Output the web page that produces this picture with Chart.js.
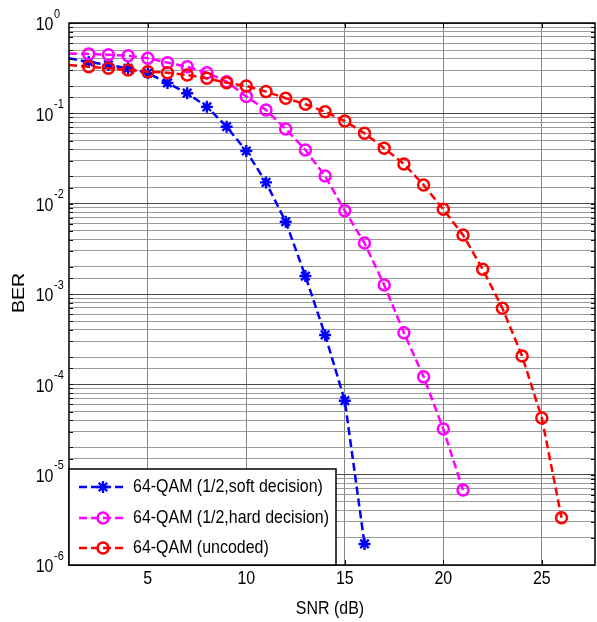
<!DOCTYPE html>
<html>
<head>
<meta charset="utf-8">
<script src="https://cdn.jsdelivr.net/npm/chart.js@4.4.1/dist/chart.umd.min.js"></script>
<style>
  html, body { margin: 0; padding: 0; background: #fff; }
  canvas { display: block; }
</style>
</head>
<body>
<canvas id="myChart" width="597" height="622"></canvas>
<script>
        // values
        const snrSoft = [1, 2, 3, 4, 5, 6, 7, 8, 9, 10, 11, 12, 13, 14, 15, 16];
        const berSoft = [0.407, 0.370, 0.343, 0.315, 0.279, 0.217, 0.167, 0.118, 0.0711, 0.0383,
                         0.0172, 0.00631, 0.00158, 3.52e-4, 6.59e-5, 1.71e-6];

        const snrHard = [1, 2, 3, 4, 5, 6, 7, 8, 9, 10, 11, 12, 13, 14, 15, 16, 17, 18, 19, 20, 21];
        const berHard = [0.46, 0.455, 0.445, 0.434, 0.407, 0.364, 0.328, 0.282, 0.224, 0.154,
                         0.109, 0.0671, 0.0393, 0.0202, 0.00836, 0.00367, 0.00126, 3.73e-4, 1.21e-4, 3.2e-5, 6.76e-6];

        const snrUncoded = [1, 2, 3, 4, 5, 6, 7, 8, 9, 10, 11, 12, 13, 14, 15, 16, 17, 18, 19, 20, 21, 22, 23, 24, 25, 26];
        const berUncoded = [0.343, 0.328, 0.315, 0.302, 0.289, 0.282, 0.266, 0.244, 0.218, 0.201,
                            0.174, 0.147, 0.126, 0.104, 0.0822, 0.0601, 0.0410, 0.0275, 0.0161, 0.00867,
                            0.00450, 0.00188, 6.95e-4, 2.06e-4, 4.24e-5, 3.34e-6];

        const seriesLabels = ['64-QAM (1/2,soft decision)', '64-QAM (1/2,hard decision)', '64-QAM (uncoded)'];
        const xTicks = [5, 10, 15, 20, 25];
        const yDecades = [0, -1, -2, -3, -4, -5, -6];
        const xTitle = 'SNR (dB)';
        const yTitle = 'BER';

        const FONT = '"Liberation Sans", Arial, Helvetica, sans-serif';
        const SQUEEZE = 0.84;   // reference text is narrower than it is tall

        function toPoints(xs, ys) {
            return xs.map((x, i) => ({ x: x, y: ys[i] }));
        }

        // first sample sits on the left edge, its marker is not shown there
        function markerSize(r) {
            return ctx => (ctx.raw && ctx.raw.x <= 1 ? 0 : r);
        }

        const dash = [8, 4];

        const datasets = [
            {
                label: seriesLabels[0],
                data: toPoints(snrSoft, berSoft),
                borderColor: '#0000ff',
                backgroundColor: '#0000ff',
                borderWidth: 2.5,
                borderDash: dash,
                pointStyle: 'star',
                pointRadius: markerSize(6),
                pointBorderWidth: 2.4,
                pointBorderColor: '#0000ff',
                pointBackgroundColor: '#0000ff',
                order: 2
            },
            {
                label: seriesLabels[1],
                data: toPoints(snrHard, berHard),
                borderColor: '#ff00ff',
                backgroundColor: 'rgba(0,0,0,0)',
                borderWidth: 2.5,
                borderDash: dash,
                pointStyle: 'circle',
                pointRadius: markerSize(5.5),
                pointBorderWidth: 2.5,
                pointBorderColor: '#ff00ff',
                pointBackgroundColor: 'rgba(0,0,0,0)',
                order: 1
            },
            {
                label: seriesLabels[2],
                data: toPoints(snrUncoded, berUncoded),
                borderColor: '#ff0000',
                backgroundColor: 'rgba(0,0,0,0)',
                borderWidth: 2.5,
                borderDash: dash,
                pointStyle: 'circle',
                pointRadius: markerSize(5.5),
                pointBorderWidth: 2.5,
                pointBorderColor: '#ff0000',
                pointBackgroundColor: 'rgba(0,0,0,0)',
                order: 0
            }
        ];

        function txt(c, s, x, y, size, align, rotate) {
            c.save();
            c.translate(x, y);
            if (rotate) {
                c.rotate(-Math.PI / 2);
                c.scale(1, SQUEEZE);
            } else {
                c.scale(SQUEEZE, 1);
            }
            c.font = size + 'px ' + FONT;
            c.fillStyle = '#000';
            c.textAlign = align;
            c.textBaseline = 'middle';
            c.fillText(s, 0, 0);
            c.restore();
        }

        function drawMarker(c, ds, x, y) {
            const r = ds.pointStyle === 'star' ? 6 : 5.5;
            c.save();
            c.setLineDash([]);
            c.strokeStyle = ds.pointBorderColor;
            c.fillStyle = ds.pointBackgroundColor;
            c.lineWidth = ds.pointBorderWidth;
            if (Chart.helpers && Chart.helpers.drawPoint) {
                Chart.helpers.drawPoint(c, { pointStyle: ds.pointStyle, rotation: 0, radius: r, borderWidth: ds.pointBorderWidth }, x, y);
            } else {
                c.beginPath();
                c.arc(x, y, r, 0, Math.PI * 2);
                c.stroke();
            }
            c.restore();
        }

        const matlabAxes = {
            id: 'matlabAxes',
            beforeDraw(chart) {
                const c = chart.ctx;
                c.save();
                c.fillStyle = '#fff';
                c.fillRect(0, 0, chart.width, chart.height);
                c.restore();
            },
            afterDatasetsDraw(chart) {
                const c = chart.ctx;
                const a = chart.chartArea;
                const xs = chart.scales.x;
                const ys = chart.scales.y;

                // little tick marks inside the box
                c.save();
                c.strokeStyle = '#000';
                c.lineWidth = 1;
                ys.ticks.forEach(t => {
                    const y = Math.round(ys.getPixelForValue(t.value)) + 0.5;
                    c.beginPath();
                    c.moveTo(a.left, y); c.lineTo(a.left + 4, y);
                    c.moveTo(a.right, y); c.lineTo(a.right - 4, y);
                    c.stroke();
                });
                xTicks.forEach(v => {
                    const x = Math.round(xs.getPixelForValue(v)) + 0.5;
                    c.beginPath();
                    c.moveTo(x, a.bottom); c.lineTo(x, a.bottom - 5);
                    c.moveTo(x, a.top); c.lineTo(x, a.top + 5);
                    c.stroke();
                });

                // axes box
                c.lineWidth = 1.5;
                c.strokeRect(a.left, a.top, a.right - a.left, a.bottom - a.top);
                c.restore();

                // tick labels
                yDecades.forEach(e => {
                    const y = ys.getPixelForValue(Math.pow(10, e));
                    txt(c, '10', 53.5, y + 2, 19, 'right');
                    txt(c, String(e), 54, y - 9, 13, 'left');
                });
                xTicks.forEach(v => {
                    txt(c, String(v), xs.getPixelForValue(v), a.bottom + 14, 19, 'center');
                });

                // axis titles
                txt(c, xTitle, 330, a.bottom + 44, 19, 'center');
                txt(c, yTitle, 19, (a.top + a.bottom) / 2 - 1, 19.5, 'center', true);

                // legend in the lower left corner
                const box = { x: a.left, y: a.bottom - 96, w: 267, h: 96 };
                c.save();
                c.fillStyle = '#fff';
                c.fillRect(box.x, box.y, box.w, box.h);
                c.strokeStyle = '#000';
                c.lineWidth = 1.5;
                c.strokeRect(box.x, box.y, box.w, box.h);
                c.restore();

                const rowY = [box.y + 18, box.y + 49, box.y + 79];
                [0, 1, 2].forEach(i => {
                    const ds = chart.data.datasets[i];
                    const y = rowY[i];
                    c.save();
                    c.strokeStyle = ds.borderColor;
                    c.lineWidth = ds.borderWidth;
                    c.setLineDash(ds.borderDash);
                    c.beginPath();
                    c.moveTo(box.x + 10, y);
                    c.lineTo(box.x + 57, y);
                    c.stroke();
                    c.restore();
                    drawMarker(c, ds, box.x + 34, y);
                    txt(c, ds.label, box.x + 64, y, 19, 'left');
                });
            }
        };

        var ctx = document.getElementById('myChart').getContext('2d');
        var myChart = new Chart(ctx, {
            type: 'line',
            data: { datasets: datasets },
            options: {
                responsive: false,
                animation: false,
                devicePixelRatio: 1,
                layout: {
                    autoPadding: false,
                    padding: { left: 69, top: 23, right: 2, bottom: 57 }
                },
                scales: {
                    x: {
                        type: 'linear',
                        min: 1,
                        max: 27.7,
                        afterBuildTicks: scale => {
                            scale.ticks = xTicks.map(v => ({ value: v }));
                        },
                        afterFit: scale => { scale.height = 0; },
                        ticks: { display: false },
                        grid: { color: '#858585', lineWidth: 1, drawTicks: false },
                        border: { display: false },
                        title: { display: false }
                    },
                    y: {
                        type: 'logarithmic',
                        min: 1e-6,
                        max: 1,
                        afterFit: scale => { scale.width = 0; },
                        ticks: { display: false, autoSkip: false },
                        grid: {
                            drawTicks: false,
                            lineWidth: 1,
                            color: c => {
                                const v = c.tick ? c.tick.value : 1;
                                const e = Math.log10(v);
                                return Math.abs(e - Math.round(e)) < 1e-6 ? '#4a4a4a' : '#9a9a9a';
                            }
                        },
                        border: { display: false },
                        title: { display: false }
                    }
                },
                plugins: {
                    legend: { display: false },
                    tooltip: { enabled: false }
                }
            },
            plugins: [matlabAxes]
        });
</script>
</body>
</html>
